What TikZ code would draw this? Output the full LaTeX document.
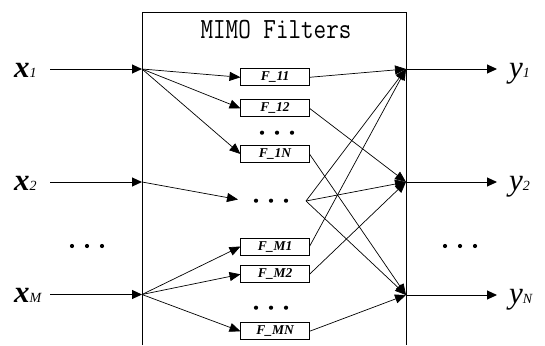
\documentclass[tikz,border=0pt]{standalone}
\usepackage{fontspec}
\setmainfont{Liberation Serif}
\usetikzlibrary{arrows.meta}

\tikzset{
  threedots/.pic={\fill (-15,0) circle (2.1) (0,0) circle (2.1) (15,0) circle (2.1);}
}

\begin{document}
\begin{tikzpicture}[x=1pt,y=-1pt,
  every node/.style={inner sep=0pt, outer sep=0pt},
  filt/.style={draw, line width=0.8pt, minimum width=69pt, minimum height=17pt,
    font=\fontsize{13.5}{13.5}\selectfont\bfseries\itshape},
  wire/.style={line width=0.7pt, -{Triangle[length=11pt,width=9pt]}},
  iowire/.style={line width=1pt, -{Triangle[length=10pt,width=9pt]}},
  biglbl/.style={anchor=base west, font=\fontsize{31}{31}\selectfont\itshape},
  subfont/.style={font=\fontsize{14}{14}\selectfont\itshape}
]
\useasboundingbox (0,0) rectangle (545,345);

% enclosing filter bank (open at the bottom)
\draw[line width=0.9pt] (142,345) -- (142,12.5) -- (406,12.5) -- (406,345);
\node[anchor=base, font=\fontsize{24.4}{24}\selectfont\ttfamily] (title) at (276,38.3)
  {\scalebox{1}[1.2]{MIMO Filters}};

% input and output junctions on the box edges
\coordinate (in1) at (142,69);
\coordinate (in2) at (142,182);
\coordinate (inM) at (142,294.5);
\coordinate (out1) at (406,69);
\coordinate (out2) at (406,182);
\coordinate (outN) at (406,295);

% input signals
\node[biglbl] (lx1) at (14,77) {\bfseries x\textmd{\fontsize{14}{14}\selectfont 1}};
\node[biglbl] (lx2) at (14,190) {\bfseries x\textmd{\fontsize{14}{14}\selectfont 2}};
\node[biglbl] (lxM) at (14,302.5) {\bfseries x\textmd{\fontsize{14}{14}\selectfont M}};
\coordinate (s1) at (50,69);
\coordinate (s2) at (50,182);
\coordinate (sM) at (50,294.5);
\draw[iowire] (s1) -- (in1);
\draw[iowire] (s2) -- (in2);
\draw[iowire] (sM) -- (inM);
\pic (ldots) at (87,246) {threedots};

% output signals
\coordinate (t1) at (497,69);
\coordinate (t2) at (497,182);
\coordinate (tN) at (497,295);
\draw[iowire] (out1) -- (t1);
\draw[iowire] (out2) -- (t2);
\draw[iowire] (outN) -- (tN);
\node[biglbl] (ly1) at (509,77) {y\fontsize{14}{14}\selectfont 1};
\node[biglbl] (ly2) at (509,190) {y\fontsize{14}{14}\selectfont 2};
\node[biglbl] (lyN) at (509,303) {y\fontsize{14}{14}\selectfont N};
\pic (rdots) at (460,246) {threedots};

% filters
\node[filt] (F11) at (275,77.3)  {F\_11};
\node[filt] (F12) at (275,108.3) {F\_12};
\node[filt] (F1N) at (275,154)   {F\_1N};
\node[filt] (FM1) at (275,246.5) {F\_M1};
\node[filt] (FM2) at (275,274.3) {F\_M2};
\node[filt] (FMN) at (275,331.3) {F\_MN};
\pic (tdots) at (277,132.7) {threedots};
\pic (mdots) at (271,200.7) {threedots};
\pic (bdots) at (271,307.7) {threedots};
\coordinate (mdin) at (238,199.5);
\coordinate (mdout) at (306,201);

% fan-out from the inputs
\draw[wire] (in1) -- (F11.west);
\draw[wire] (in1) -- (F12.west);
\draw[wire] (in1) -- (F1N.west);
\draw[wire] (in2) -- (mdin);
\draw[wire] (inM) -- (FM1.west);
\draw[wire] (inM) -- (FM2.west);
\draw[wire] (inM) -- (FMN.west);

% fan-in to the outputs
\draw[wire] (F11.east) -- (out1);
\draw[wire] (F12.east) -- (out2);
\draw[wire] (F1N.east) -- (outN);
\draw[wire] (mdout) -- (out1);
\draw[wire] (mdout) -- (out2);
\draw[wire] (mdout) -- (outN);
\draw[wire] (FM1.east) -- (out1);
\draw[wire] (FM2.east) -- (out2);
\draw[wire] (FMN.east) -- (outN);
\end{tikzpicture}
\end{document}
